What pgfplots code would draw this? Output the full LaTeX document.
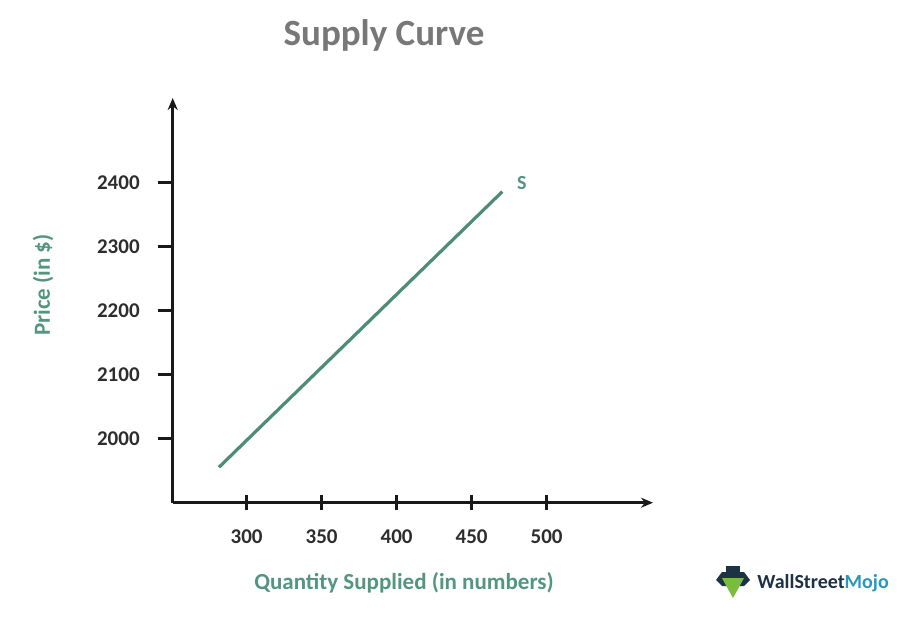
\documentclass[border=0pt]{standalone}
\usepackage{fontspec}
\setmainfont{Carlito}
\usepackage{pgfplots}
\pgfplotsset{compat=1.18}
\usetikzlibrary{arrows.meta}
\definecolor{tealtext}{RGB}{82,150,128}
\definecolor{tealline}{RGB}{76,140,120}
\definecolor{axisc}{RGB}{25,25,25}
\definecolor{tickc}{RGB}{45,45,45}
\definecolor{titlec}{RGB}{120,120,120}
\definecolor{wsmdark}{RGB}{30,50,70}
\definecolor{wsmblue}{RGB}{40,150,190}
\definecolor{wsmgreen}{RGB}{120,190,60}

\begin{document}
\begin{tikzpicture}
% reference px * 0.5pt, y downwards
\useasboundingbox (0,0) rectangle (457.5pt,-315.5pt);

\begin{axis}[
    at={(86.35pt,-251.35pt)}, anchor=south west,
    scale only axis, width=240.15pt, height=202.35pt,
    xmin=250.7, xmax=570.9, ymin=1899.2, ymax=2532.5,
    axis lines=left,
    axis line style={line width=1.4pt, draw=axisc, -{Stealth[length=6pt,width=5pt]}},
    major tick length=7.5pt,
    tick style={line width=1.4pt, draw=axisc},
    xtick align=center, ytick align=outside,
    xtick={300,350,400,450,500},
    ytick={2000,2100,2200,2300,2400},
    /pgf/number format/1000 sep={},
    /pgf/number format/assume math mode=true,
    tick label style={font=\fontsize{10.5}{12}\selectfont\bfseries, text=tickc},
    xticklabel style={yshift=-6pt},
    yticklabel style={xshift=-5.5pt},
    clip=false,
]
\addplot[tealline, line width=1.6pt] coordinates {(281.5,1954.6) (470.4,2385.9)};
\node[text=tealtext, font=\fontsize{10}{12}\selectfont\bfseries] at (axis cs:483.5,2400) {S};
\end{axis}

\node[text=titlec, font=\fontsize{18.5}{22}\selectfont\bfseries] at (192pt,-17.5pt) {Supply Curve};
\node[text=tealtext, font=\fontsize{11.5}{14}\selectfont\bfseries] at (202pt,-291.5pt) {Quantity Supplied (in numbers)};
\node[text=tealtext, font=\fontsize{11.5}{14}\selectfont\bfseries, rotate=90] at (21.5pt,-142.5pt) {Price (in \$)};

% watermark
\fill[wsmdark] (358pt,-290pt) -- (361pt,-286pt) -- (372pt,-286pt) -- (375pt,-290pt) -- (372pt,-293pt) -- (361pt,-293pt) -- cycle;
\fill[wsmgreen] (361pt,-289pt) -- (372pt,-289pt) -- (366.5pt,-299pt) -- cycle;
\fill[wsmdark] (363pt,-288pt) rectangle (370pt,-283pt);
\node[anchor=west, inner sep=0pt, font=\fontsize{10}{12}\selectfont\bfseries] at (378.5pt,-291.5pt)
  {\textcolor{wsmdark}{WallStreet}\textcolor{wsmblue}{Mojo}};
\end{tikzpicture}
\end{document}
